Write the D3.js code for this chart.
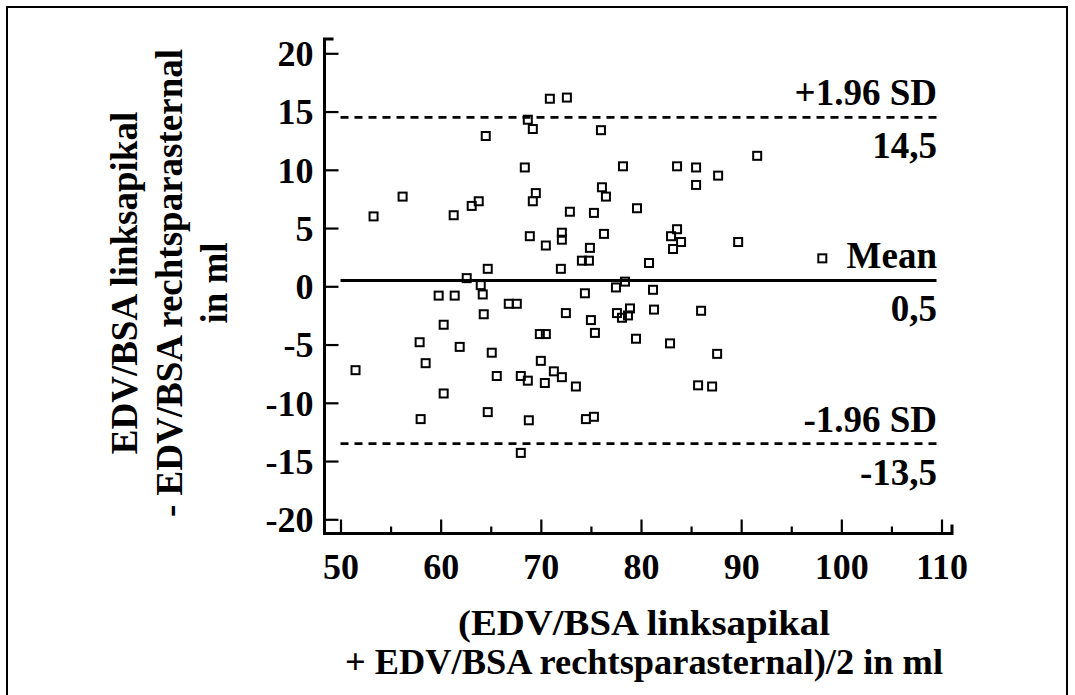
<!DOCTYPE html>
<html>
<head>
<meta charset="utf-8">
<script src="https://cdn.jsdelivr.net/npm/d3@7"></script>
<style>
  html, body { margin: 0; padding: 0; background: #fff; }
  svg text { font-family: "Liberation Serif", "Times New Roman", serif; font-weight: bold; fill: #000; }
</style>
</head>
<body>
<svg id="chart" width="1075" height="695"></svg>
<script>
// Bland-Altman: mean of the two methods (x) vs. their difference (y)
const meanValues = [
  70.9, 72.6, 68.7, 69.2, 76.0, 64.5, 68.4, 78.2, 69.5, 76.1,
  76.5, 56.2, 69.2, 63.8, 63.1, 53.3, 61.3, 72.9, 75.3, 79.6,
  68.9, 70.5, 72.1, 72.1, 76.3, 74.9, 74.1, 74.8, 64.7, 72.0,
  62.6, 78.4, 77.5, 64.0, 74.4,
  59.8, 61.4, 64.2, 66.8, 67.6, 64.3, 72.5, 75.0, 77.6, 78.1,
  78.9, 78.7, 60.3, 75.4, 69.9, 70.5, 79.5, 57.9, 61.9, 65.1,
  58.5, 70.0, 51.5, 65.6, 68.0, 68.7, 71.3, 70.4, 72.1, 73.5,
  60.3, 64.7, 58.0, 68.8, 74.5, 75.3, 68.0,
  83.6, 85.5, 91.6, 87.7, 85.5, 83.6, 83.0, 84.0, 83.2, 89.7,
  80.8, 98.1, 81.2,
  81.3, 86.0, 82.9, 87.6, 85.7, 87.1
];
const diffValues = [
  16.1, 16.2, 14.3, 13.5, 13.4, 12.9, 10.2, 10.3, 8.0, 8.5,
  7.7, 7.7, 7.3, 7.3, 6.9, 6.0, 6.1, 6.4, 6.3, 6.7,
  4.3, 3.5, 4.6, 4.0, 4.5, 3.3, 2.2, 2.2, 1.5, 1.5,
  0.7, 0.4, -0.1, 0.1, -0.6,
  -0.8, -0.8, -0.7, -1.5, -1.5, -2.4, -2.3, -2.9, -2.3, -2.7,
  -1.9, -2.5, -3.3, -4.0, -4.1, -4.1, -4.5, -4.8, -5.2, -5.7,
  -6.6, -6.4, -7.2, -7.7, -7.7, -8.1, -7.3, -8.3, -7.8, -8.6,
  -9.2, -10.8, -11.4, -11.5, -11.4, -11.2, -14.3,
  10.3, 10.2, 11.2, 9.5, 8.7, 4.9, 4.3, 3.8, 3.2, 3.8,
  2.0, 2.4, -0.3,
  -2.0, -2.1, -4.9, -5.8, -8.5, -8.6
];

// Reference lines: mean difference and limits of agreement
const refLines = [
  { value: 14.5, label: "+1.96 SD", valueText: "14,5", dashed: true },
  { value: 0.5,  label: "Mean",     valueText: "0,5",  dashed: false },
  { value: -13.5, label: "-1.96 SD", valueText: "-13,5", dashed: true }
];

const xTicks = [50, 60, 70, 80, 90, 100, 110];
const xMinorTicks = [55, 65, 75, 85, 95, 105];
const yTicks = [20, 15, 10, 5, 0, -5, -10, -15, -20];

const xTitleLines = ["(EDV/BSA linksapikal", "+ EDV/BSA rechtsparasternal)/2 in ml"];
const yTitleLines = ["EDV/BSA linksapikal", "- EDV/BSA rechtsparasternal", "in ml"];

const svg = d3.select("#chart");

// outer frame
svg.append("rect")
  .attr("x", 7).attr("y", 7).attr("width", 1060).attr("height", 700)
  .attr("fill", "none").attr("stroke", "#000").attr("stroke-width", 2);

const x = d3.scaleLinear().domain([50, 110]).range([340.5, 941.5]);
const y = d3.scaleLinear().domain([-20, 20]).range([519.3, 53.3]);

const spineX = 324.5, spineY = 533.5;
const spineTop = 39, spineRight = 952;

// plain hyphen for negative numbers
const numFmt = d => String(d);

// y axis (ticks point inward)
const yAxis = svg.append("g")
  .attr("transform", `translate(${spineX},0)`)
  .call(d3.axisLeft(y).tickValues(yTicks).tickSize(-14).tickPadding(11).tickFormat(numFmt));
yAxis.select(".domain").remove();
yAxis.selectAll(".tick line").attr("stroke-width", 2.2);
yAxis.selectAll(".tick text").attr("font-size", 36).attr("dy", "0.34em");

// x axis major ticks with labels
const xAxis = svg.append("g")
  .attr("transform", `translate(0,${spineY})`)
  .call(d3.axisBottom(x).tickValues(xTicks).tickSize(-14).tickPadding(20).tickFormat(numFmt));
xAxis.select(".domain").remove();
xAxis.selectAll(".tick line").attr("stroke-width", 2.2);
xAxis.selectAll(".tick text").attr("font-size", 36);

// x axis minor ticks
const xMinor = svg.append("g")
  .attr("transform", `translate(0,${spineY})`)
  .call(d3.axisBottom(x).tickValues(xMinorTicks).tickSize(-7).tickFormat(""));
xMinor.select(".domain").remove();
xMinor.selectAll(".tick line").attr("stroke-width", 2.2);

// spines with short end caps
svg.append("path")
  .attr("d", `M${spineX + 9},${spineTop} H${spineX} V${spineY} H${spineRight} V${spineY - 9}`)
  .attr("fill", "none").attr("stroke", "#000").attr("stroke-width", 3)
  .attr("stroke-linejoin", "miter");

// reference lines
const lineX0 = x(50), lineX1 = x(109.5);
const labelX = 937;
refLines.forEach(r => {
  svg.append("line")
    .attr("x1", lineX0).attr("x2", lineX1)
    .attr("y1", y(r.value)).attr("y2", y(r.value))
    .attr("stroke", "#000")
    .attr("stroke-width", r.dashed ? 2.6 : 3)
    .attr("stroke-dasharray", r.dashed ? "8,6" : null);
  svg.append("text")
    .attr("x", labelX).attr("y", y(r.value) - 12)
    .attr("text-anchor", "end").attr("font-size", 37)
    .text(r.label);
  svg.append("text")
    .attr("x", labelX).attr("y", y(r.value) + 41)
    .attr("text-anchor", "end").attr("font-size", 37)
    .text(r.valueText);
});

// data points: open squares
const pts = meanValues.map((m, i) => ({ m, d: diffValues[i] }));
const sq = 8;
svg.append("g").selectAll("rect")
  .data(pts)
  .join("rect")
  .attr("x", p => x(p.m) - sq / 2)
  .attr("y", p => y(p.d) - sq / 2)
  .attr("width", sq).attr("height", sq)
  .attr("fill", "none")
  .attr("stroke", "#000").attr("stroke-width", 2);

// x axis title, two lines
const xTitleWidths = [372, 598];
xTitleLines.forEach((t, i) => {
  svg.append("text")
    .attr("x", 644).attr("y", 635 + i * 39)
    .attr("text-anchor", "middle").attr("font-size", 35)
    .attr("textLength", xTitleWidths[i]).attr("lengthAdjust", "spacingAndGlyphs")
    .text(t);
});

// y axis title (rotated), three lines
const yTitle = svg.append("text").attr("text-anchor", "middle").attr("font-size", 37)
  .attr("transform", "translate(0,283) rotate(-90)");
yTitleLines.forEach((t, i) => {
  yTitle.append("tspan").attr("x", 0).attr("y", 137 + i * 45).text(t);
});
</script>
</body>
</html>
